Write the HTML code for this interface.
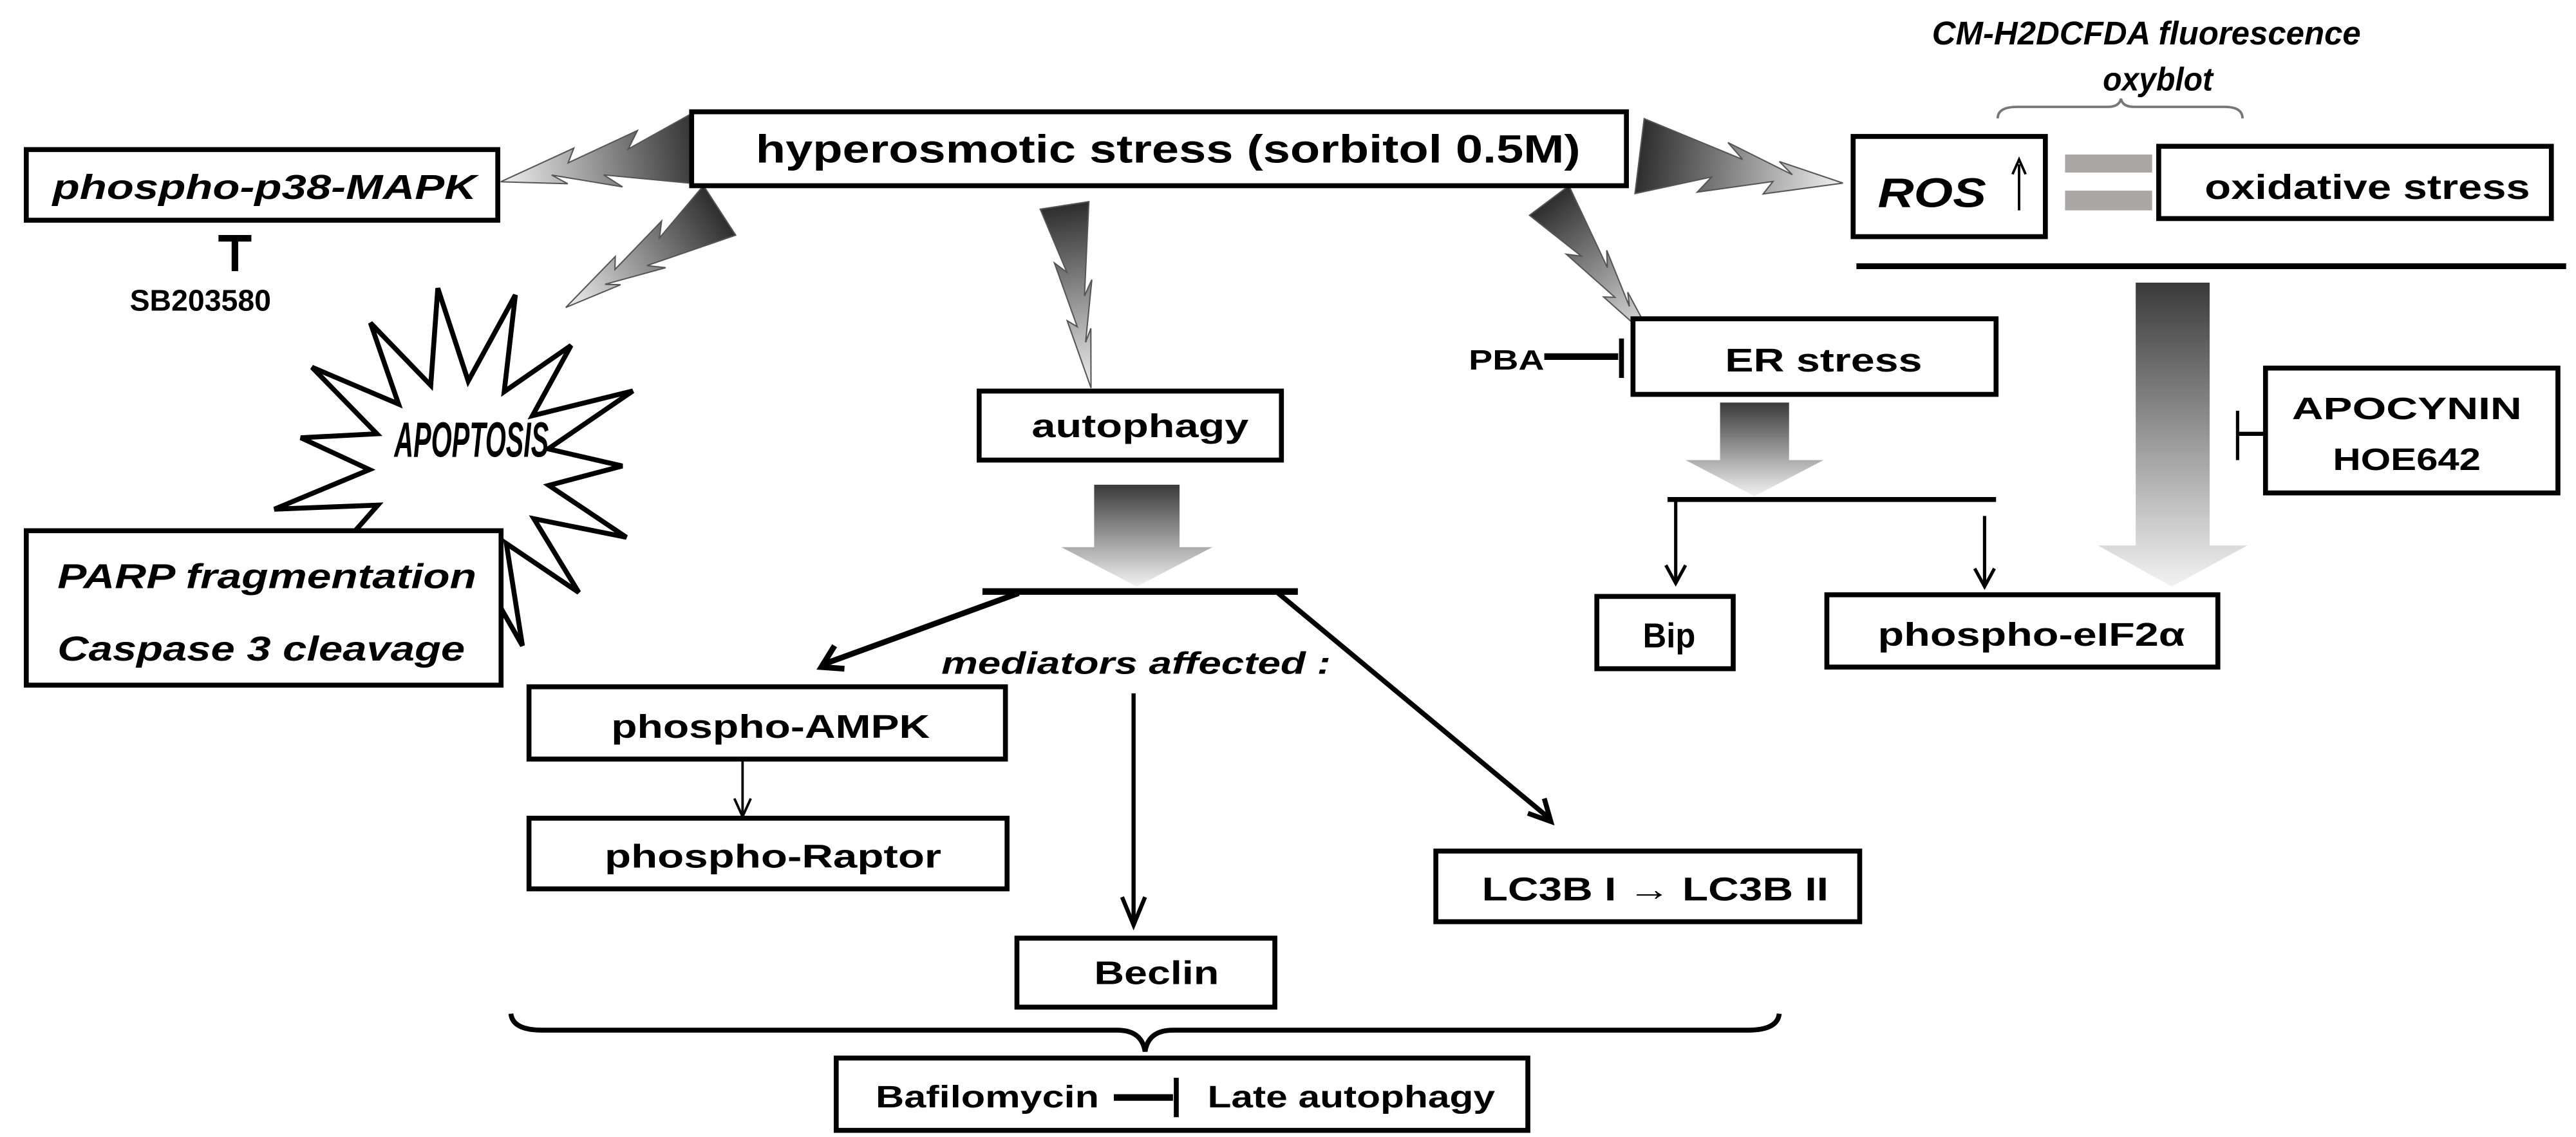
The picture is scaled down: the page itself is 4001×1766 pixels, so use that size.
<!DOCTYPE html>
<html><head><meta charset="utf-8"><style>
html,body{margin:0;padding:0;background:#fff;}
svg{display:block;}
text{font-family:"Liberation Sans",Arial,sans-serif;font-weight:bold;fill:#000;}
.it{font-style:italic;}
</style></head><body>
<svg id="s" width="4001" height="1766" viewBox="0 0 1568 692" xmlns="http://www.w3.org/2000/svg">
<defs>
<linearGradient id="vg" x1="0" y1="0" x2="0" y2="1"><stop offset="0" stop-color="#3a3a3a"/><stop offset="1" stop-color="#f2f2f2"/></linearGradient>
</defs>
<g id="bolts"></g>

<!-- starburst -->
<polygon id="star" fill="#fff" stroke="#000" stroke-width="3" points=""/>

<!-- boxes -->
<g fill="#fff" stroke="#000" stroke-width="3">
<rect x="421" y="68" width="569" height="45"/>
<rect x="16" y="91" width="287" height="43"/>
<rect x="16" y="323" width="289" height="94"/>
<rect x="596" y="238" width="184" height="42"/>
<rect x="322" y="418" width="290" height="44"/>
<rect x="322" y="498" width="291" height="43"/>
<rect x="619" y="571" width="157" height="42"/>
<rect x="874" y="518" width="258" height="43"/>
<rect x="509" y="644" width="421" height="44"/>
<rect x="1128" y="83" width="117" height="61"/>
<rect x="1314" y="89" width="239" height="44"/>
<rect x="994" y="194" width="221" height="46"/>
<rect x="1379" y="224" width="178" height="76"/>
<rect x="972" y="363" width="83" height="44"/>
<rect x="1112" y="362" width="238" height="44"/>
</g>

<rect x="1257" y="94" width="53" height="11" fill="#aaa6a6"/>
<rect x="1257" y="116" width="53" height="12" fill="#aaa6a6"/>

<polygon fill="url(#vg)" points="666,295 718,295 718,333 738,333 692,357 646,333 666,333"/>
<polygon fill="url(#vg)" points="1047,245 1089,245 1089,280 1110,280 1068,302 1026,280 1047,280"/>
<polygon fill="url(#vg)" points="1300,172 1345,172 1345,332 1368,332 1322,357 1277,332 1300,332"/>

<g stroke="#000" fill="none">
<line x1="1130" y1="162" x2="1562" y2="162" stroke-width="3.5"/>
<line x1="598" y1="360" x2="790" y2="360" stroke-width="4"/>
<line x1="1015" y1="304" x2="1215" y2="304" stroke-width="3"/>
<line x1="1020" y1="304" x2="1020" y2="354" stroke-width="2"/>
<polyline points="1014,344 1020,355 1026,344" stroke-width="2"/>
<line x1="1208" y1="314" x2="1208" y2="357" stroke-width="2"/>
<polyline points="1202,346 1208,357 1214,346" stroke-width="2"/>
<line x1="620" y1="361" x2="502" y2="404" stroke-width="3.5"/>
<polyline points="508,393 500,406 514,407" stroke-width="3.5"/>
<line x1="778" y1="361" x2="943" y2="498" stroke-width="3"/>
<polyline points="930,495 944,500 940,486" stroke-width="3"/>
<line x1="690" y1="422" x2="690" y2="562" stroke-width="2.5"/>
<polyline points="683,546 690,563 697,546" stroke-width="2.5"/>
<line x1="452" y1="462" x2="452" y2="497" stroke-width="1.5"/>
<polyline points="447,486 452,497 457,486" stroke-width="1.5"/>
<line x1="143" y1="145" x2="143" y2="165" stroke-width="4"/>
<line x1="133" y1="145" x2="153" y2="145" stroke-width="4"/>
<line x1="940" y1="217" x2="985" y2="217" stroke-width="4"/>
<line x1="987" y1="206" x2="987" y2="230" stroke-width="3"/>
<line x1="1362" y1="264" x2="1378" y2="264" stroke-width="2.5"/>
<line x1="1362" y1="250" x2="1362" y2="280" stroke-width="2"/>
<line x1="678" y1="668" x2="714" y2="668" stroke-width="4"/>
<line x1="716" y1="656" x2="716" y2="680" stroke-width="3"/>
<line x1="1229" y1="100" x2="1229" y2="128" stroke-width="1.5"/>
<polyline points="1225,106 1229,97 1233,106" stroke-width="1.5"/>
<path d="M311,617 Q312,627 330,627 L680,627 Q695,627 697,640 Q699,627 714,627 L1064,627 Q1082,627 1083,617" stroke-width="3"/>
<path d="M1216,72 Q1216,65 1228,65 L1283,65 Q1290,65 1291,60 Q1292,65 1299,65 L1354,65 Q1365,65 1365,72" stroke="#777" stroke-width="1.5"/>
</g>

<text x="460" y="99" font-size="24" textLength="502" lengthAdjust="spacingAndGlyphs">hyperosmotic stress (sorbitol 0.5M)</text>
<text class="it" x="32" y="121" font-size="21" textLength="258" lengthAdjust="spacingAndGlyphs">phospho-p38-MAPK</text>
<text x="79" y="189" font-size="18" textLength="86" lengthAdjust="spacingAndGlyphs">SB203580</text>
<text class="it" x="240" y="278" font-size="30" textLength="94" lengthAdjust="spacingAndGlyphs">APOPTOSIS</text>
<text class="it" x="35" y="358" font-size="21" textLength="255" lengthAdjust="spacingAndGlyphs">PARP fragmentation</text>
<text class="it" x="35" y="402" font-size="21" textLength="248" lengthAdjust="spacingAndGlyphs">Caspase 3 cleavage</text>
<text x="628" y="266" font-size="20" textLength="132" lengthAdjust="spacingAndGlyphs">autophagy</text>
<text class="it" x="573" y="410" font-size="19" textLength="237" lengthAdjust="spacingAndGlyphs">mediators affected :</text>
<text x="372" y="449" font-size="20" textLength="194" lengthAdjust="spacingAndGlyphs">phospho-AMPK</text>
<text x="368" y="528" font-size="20" textLength="205" lengthAdjust="spacingAndGlyphs">phospho-Raptor</text>
<text x="666" y="599" font-size="20" textLength="76" lengthAdjust="spacingAndGlyphs">Beclin</text>
<text x="902" y="548" font-size="20" textLength="211" lengthAdjust="spacingAndGlyphs">LC3B I → LC3B II</text>
<text x="533" y="674" font-size="19" textLength="136" lengthAdjust="spacingAndGlyphs">Bafilomycin</text>
<text x="735" y="674" font-size="19" textLength="175" lengthAdjust="spacingAndGlyphs">Late autophagy</text>
<text class="it" x="1176" y="27" font-size="20" textLength="261" lengthAdjust="spacingAndGlyphs">CM-H2DCFDA fluorescence</text>
<text class="it" x="1280" y="55" font-size="20" textLength="67" lengthAdjust="spacingAndGlyphs">oxyblot</text>
<text class="it" x="1143" y="126" font-size="25" textLength="66" lengthAdjust="spacingAndGlyphs">ROS</text>
<text x="1342" y="121" font-size="21" textLength="198" lengthAdjust="spacingAndGlyphs">oxidative stress</text>
<text x="1050" y="226" font-size="20" textLength="120" lengthAdjust="spacingAndGlyphs">ER stress</text>
<text x="894" y="225" font-size="17" textLength="46" lengthAdjust="spacingAndGlyphs">PBA</text>
<text x="1395" y="255" font-size="19" textLength="140" lengthAdjust="spacingAndGlyphs">APOCYNIN</text>
<text x="1420" y="286" font-size="19" textLength="90" lengthAdjust="spacingAndGlyphs">HOE642</text>
<text x="1000" y="394" font-size="21" textLength="32" lengthAdjust="spacingAndGlyphs">Bip</text>
<text x="1143" y="393" font-size="20" textLength="187" lengthAdjust="spacingAndGlyphs">phospho-eIF2α</text>
</svg>
<script>
(function(){
var NS="http://www.w3.org/2000/svg",svg=document.getElementById("s"),defs=svg.querySelector("defs"),g=document.getElementById("bolts");
var bolts=[[428,90,305,112,46],[438,128,345,188,36],[648,125,665,236,30],[943,122,1008,208,30],[998,95,1122,110,46]];
var shape=[[0,-0.5],[0.5,-0.12],[0.42,-0.32],[0.75,0.0],[0.68,-0.15],[1,0.03],[0.62,0.3],[0.66,0.12],[0.3,0.38],[0.36,0.16],[0,0.5]];
bolts.forEach(function(b,i){
 var ax=b[0],ay=b[1],bx=b[2],by=b[3],W=b[4];
 var dx=bx-ax,dy=by-ay,L=Math.hypot(dx,dy),ux=dx/L,uy=dy/L,px=-uy,py=ux;
 var gr=document.createElementNS(NS,"linearGradient");gr.setAttribute("id","bg"+i);gr.setAttribute("gradientUnits","userSpaceOnUse");
 gr.setAttribute("x1",ax);gr.setAttribute("y1",ay);gr.setAttribute("x2",bx);gr.setAttribute("y2",by);
 gr.innerHTML='<stop offset="0" stop-color="#2e2e2e"/><stop offset="1" stop-color="#f0f0f0"/>';defs.appendChild(gr);
 var pts=shape.map(function(s){return (ax+ux*s[0]*L+px*s[1]*W).toFixed(1)+","+(ay+uy*s[0]*L+py*s[1]*W).toFixed(1);}).join(" ");
 var p=document.createElementNS(NS,"polygon");p.setAttribute("points",pts);p.setAttribute("fill","url(#bg"+i+")");p.setAttribute("stroke","#555");p.setAttribute("stroke-width","0.8");g.appendChild(p);
});
var cx=280,cy=285,n=15,pts=[];
var outer=[120,108,122,104,116,112,124,106,118,110,122,104,116,112,120];
for(var k=0;k<n*2;k++){var a=-Math.PI/2+Math.PI*k/n+0.3;var r=k%2?58:outer[k/2|0];pts.push((cx+r*Math.cos(a)*0.95).toFixed(1)+","+(cy+r*Math.sin(a)*0.92).toFixed(1));}
document.getElementById("star").setAttribute("points",pts.join(" "));
})();
</script>
</body></html>
